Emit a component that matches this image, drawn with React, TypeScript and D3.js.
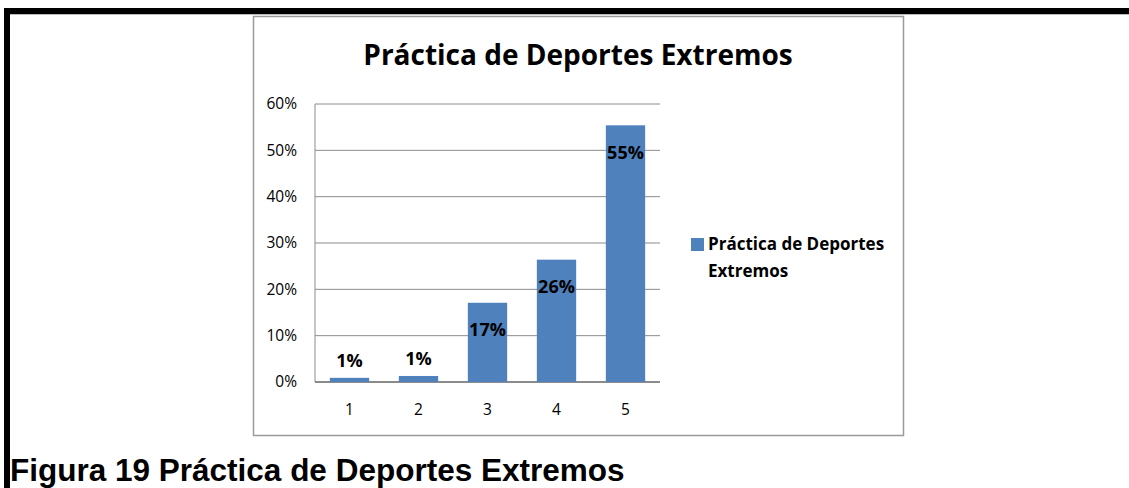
import React from "react";
import * as d3 from "d3";

const categories = ["1", "2", "3", "4", "5"];
const values = [0.009, 0.013, 0.171, 0.264, 0.554];
const yTicks = [0, 0.1, 0.2, 0.3, 0.4, 0.5, 0.6];
const title = "Práctica de Deportes Extremos";
const seriesName = ["Práctica de Deportes", "Extremos"];
const caption = "Figura 19 Práctica de Deportes Extremos";

const W = 1129;
const H = 488;
const plot = { left: 315, right: 660, top: 104, bottom: 382 };
const BAR = "#4F81BD";
const FONT = "'Open Sans', Lato, sans-serif";

export default function App() {
  const x = d3
    .scaleBand<string>()
    .domain(categories)
    .range([plot.left, plot.right])
    .paddingInner(0.43)
    .paddingOuter(0.215);
  const y = d3.scaleLinear().domain([0, 0.6]).range([plot.bottom, plot.top]);
  const pct = d3.format(".0%");

  return (
    <svg
      width={W}
      height={H}
      style={{ position: "absolute", left: 0, top: 0, background: "#fff" }}
    >
      {/* page borders */}
      <rect x={4} y={8} width={W - 4} height={6} fill="#000" />
      <line x1={4} x2={W} y1={14.5} y2={14.5} stroke="#bbb" strokeWidth={1} />
      <rect x={4} y={8} width={6} height={H - 8} fill="#000" />

      {/* chart frame */}
      <rect x={253.5} y={16.5} width={650} height={419} fill="#fff" stroke="#9a9a9a" strokeWidth={1.5} />

      {/* title */}
      <text x={578} y={65} textAnchor="middle" fontFamily={FONT} fontWeight={700} fontSize={28} fill="#000">
        {title}
      </text>

      {/* gridlines */}
      {yTicks.map((t) => (
        <line key={t} x1={plot.left} x2={plot.right} y1={y(t)} y2={y(t)} stroke="#8c8c8c" strokeWidth={1} />
      ))}
      <line x1={plot.left} x2={plot.left} y1={plot.top} y2={plot.bottom} stroke="#8c8c8c" strokeWidth={1} />
      <line x1={plot.left} x2={plot.right} y1={plot.bottom} y2={plot.bottom} stroke="#777" strokeWidth={1.5} />

      {/* y tick labels */}
      {yTicks.map((t) => (
        <text key={t} x={297} y={y(t)} dy="0.35em" textAnchor="end" fontFamily={FONT} fontSize={15.5} fill="#000">
          {pct(t)}
        </text>
      ))}

      {/* bars */}
      {values.map((v, i) => (
        <rect
          key={categories[i]}
          x={x(categories[i])}
          y={y(v)}
          width={x.bandwidth()}
          height={plot.bottom - y(v)}
          fill={BAR}
        />
      ))}

      {/* data labels */}
      {values.map((v, i) => {
        const cx = (x(categories[i]) as number) + x.bandwidth() / 2;
        const inside = plot.bottom - y(v) > 40;
        const ly = inside ? y(v) + 27 : y(v) - 17;
        return (
          <text key={categories[i]} x={cx} y={ly} dy="0.35em" textAnchor="middle" fontFamily={FONT} fontWeight={700} fontSize={18} fill="#000">
            {pct(v)}
          </text>
        );
      })}

      {/* x labels */}
      {categories.map((c) => (
        <text key={c} x={(x(c) as number) + x.bandwidth() / 2} y={410} dy="0.35em" textAnchor="middle" fontFamily={FONT} fontSize={15.5} fill="#000">
          {c}
        </text>
      ))}

      {/* legend */}
      <rect x={691} y={238} width={13} height={13} fill={BAR} />
      {seriesName.map((s, i) => (
        <text key={s} x={708} y={244 + i * 27} dy="0.35em" fontFamily={FONT} fontWeight={700} fontSize={17} fill="#000">
          {s}
        </text>
      ))}

      {/* caption */}
      <text x={10} y={481} fontFamily="'Liberation Sans', Arial, sans-serif" fontWeight={700} fontSize={31.5} fill="#000">
        {caption}
      </text>
    </svg>
  );
}
